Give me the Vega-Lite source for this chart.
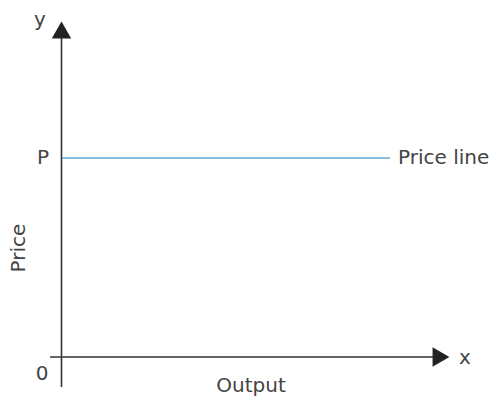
{
  "$schema": "https://vega.github.io/schema/vega-lite/v6.json",
  "width": 490,
  "height": 400,
  "autosize": {"type": "fit", "contains": "padding"},
  "padding": 0,
  "background": "white",
  "view": {"stroke": null},
  "config": {"text": {"font": "DejaVu Sans"}},
  "datasets": {
    "lines": [
      {"name": "y axis", "kind": "axis", "x": 61.5, "x2": 61.5, "y": 35, "y2": 387},
      {"name": "x axis", "kind": "axis", "x": 50, "x2": 438, "y": 357, "y2": 357},
      {"name": "price line", "kind": "price", "x": 62, "x2": 390, "y": 158, "y2": 158}
    ],
    "arrows": [
      {"name": "y arrow", "dir": "up", "x": 61.5, "y": 30},
      {"name": "x arrow", "dir": "right", "x": 441, "y": 357}
    ],
    "labels": [
      {"label": "y", "x": 40, "y": 20},
      {"label": "P", "x": 43, "y": 158},
      {"label": "0", "x": 42, "y": 374},
      {"label": "x", "x": 465, "y": 358},
      {"label": "Output", "x": 251, "y": 386}
    ],
    "rlabels": [
      {"label": "Price line", "x": 398, "y": 158}
    ],
    "vlabels": [
      {"label": "Price", "x": 19, "y": 248}
    ]
  },
  "layer": [
    {
      "data": {"name": "lines"},
      "mark": {"type": "rule", "strokeWidth": 1.6},
      "encoding": {
        "x": {"field": "x", "type": "quantitative", "scale": {"domain": [0, 490], "nice": false}, "axis": null},
        "x2": {"field": "x2"},
        "y": {"field": "y", "type": "quantitative", "scale": {"domain": [400, 0], "nice": false}, "axis": null},
        "y2": {"field": "y2"},
        "color": {"field": "kind", "type": "nominal", "scale": {"domain": ["axis", "price"], "range": ["#333333", "#5aaed0"]}, "legend": null}
      }
    },
    {
      "data": {"name": "arrows"},
      "mark": {"type": "point", "filled": true, "opacity": 1, "size": 380, "color": "#222222"},
      "encoding": {
        "x": {"field": "x", "type": "quantitative", "scale": {"domain": [0, 490], "nice": false}, "axis": null},
        "y": {"field": "y", "type": "quantitative", "scale": {"domain": [400, 0], "nice": false}, "axis": null},
        "shape": {"field": "dir", "type": "nominal", "scale": {"domain": ["up", "right"], "range": ["triangle-up", "triangle-right"]}, "legend": null}
      }
    },
    {
      "data": {"name": "labels"},
      "mark": {"type": "text", "fontSize": 20, "color": "#444444", "baseline": "middle", "align": "center"},
      "encoding": {
        "x": {"field": "x", "type": "quantitative", "scale": {"domain": [0, 490], "nice": false}, "axis": null},
        "y": {"field": "y", "type": "quantitative", "scale": {"domain": [400, 0], "nice": false}, "axis": null},
        "text": {"field": "label"}
      }
    },
    {
      "data": {"name": "rlabels"},
      "mark": {"type": "text", "fontSize": 20, "color": "#444444", "baseline": "middle", "align": "left"},
      "encoding": {
        "x": {"field": "x", "type": "quantitative", "scale": {"domain": [0, 490], "nice": false}, "axis": null},
        "y": {"field": "y", "type": "quantitative", "scale": {"domain": [400, 0], "nice": false}, "axis": null},
        "text": {"field": "label"}
      }
    },
    {
      "data": {"name": "vlabels"},
      "mark": {"type": "text", "fontSize": 20, "color": "#444444", "baseline": "middle", "align": "center", "angle": 270},
      "encoding": {
        "x": {"field": "x", "type": "quantitative", "scale": {"domain": [0, 490], "nice": false}, "axis": null},
        "y": {"field": "y", "type": "quantitative", "scale": {"domain": [400, 0], "nice": false}, "axis": null},
        "text": {"field": "label"}
      }
    }
  ]
}
